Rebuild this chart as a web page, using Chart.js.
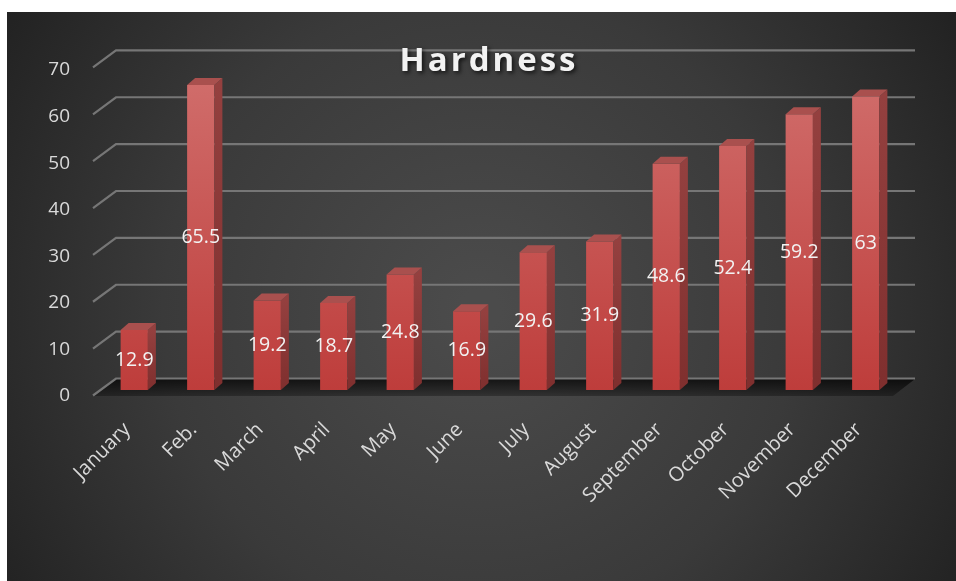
<!DOCTYPE html>
<html>
<head>
<meta charset="utf-8">
<script src="https://cdn.jsdelivr.net/npm/chart.js@4.4.1/dist/chart.umd.min.js"></script>
<style>
  html, body { margin: 0; padding: 0; background: #fff; }
  canvas { display: block; }
</style>
</head>
<body>
<canvas id="hardnessChart" width="956" height="581"></canvas>
<script>
const months = ['January', 'Feb.', 'March', 'April', 'May', 'June', 'July', 'August', 'September', 'October', 'November', 'December'];
const hardness = [12.9, 65.5, 19.2, 18.7, 24.8, 16.9, 29.6, 31.9, 48.6, 52.4, 59.2, 63];
const yMin = 0;
const yMax = 70;
const yStep = 10;

const DEPTH_X = 8;
const DEPTH_Y = 7;

// dark panel with soft radial light
const backdrop = {
    id: 'backdrop',
    beforeDraw(chart) {
        const ctx = chart.ctx;
        ctx.save();
        ctx.fillStyle = '#ffffff';
        ctx.fillRect(0, 0, chart.width, chart.height);
        const g = ctx.createRadialGradient(480, 310, 20, 480, 310, 560);
        g.addColorStop(0, '#4b4b4b');
        g.addColorStop(0.55, '#3a3a3a');
        g.addColorStop(1, '#222222');
        ctx.fillStyle = g;
        ctx.fillRect(7, 12, chart.width - 7, chart.height - 12);
        ctx.restore();
    }
};

// back wall grid lines with the little diagonal at the left, plus floor
const wallGrid = {
    id: 'wallGrid',
    beforeDatasetsDraw(chart) {
        const ctx = chart.ctx;
        const y = chart.scales.y;
        const right = 915;
        ctx.save();
        // floor
        const fy = y.getPixelForValue(0);
        const fg = ctx.createLinearGradient(0, fy - 12, 0, fy + 6);
        fg.addColorStop(0, 'rgba(0,0,0,0.75)');
        fg.addColorStop(1, 'rgba(0,0,0,0.3)');
        ctx.fillStyle = fg;
        ctx.beginPath();
        ctx.moveTo(93, fy + 6);
        ctx.lineTo(117, fy - 11);
        ctx.lineTo(right, fy - 11);
        ctx.lineTo(right - 22, fy + 6);
        ctx.closePath();
        ctx.fill();

        ctx.strokeStyle = '#767676';
        ctx.lineWidth = 2.2;
        for (let v = yMin; v <= yMax; v += yStep) {
            const back = y.getPixelForValue(v) - 11.5 - v * 0.03;
            ctx.beginPath();
            ctx.moveTo(93, back + 17);
            ctx.lineTo(116, back);
            ctx.lineTo(right, back);
            ctx.stroke();
        }
        ctx.restore();
    }
};

// side and top faces of the bars, then value labels
const bars3d = {
    id: 'bars3d',
    afterDatasetsDraw(chart) {
        const ctx = chart.ctx;
        const meta = chart.getDatasetMeta(0);
        ctx.save();
        meta.data.forEach((bar) => {
            const p = bar.getProps(['x', 'y', 'base', 'width'], true);
            const l = p.x - p.width / 2;
            const r = p.x + p.width / 2;
            // side
            const sg = ctx.createLinearGradient(0, p.y, 0, p.base);
            sg.addColorStop(0, '#94403f');
            sg.addColorStop(1, '#7f2f2e');
            ctx.fillStyle = sg;
            ctx.beginPath();
            ctx.moveTo(r, p.y);
            ctx.lineTo(r + DEPTH_X, p.y - DEPTH_Y);
            ctx.lineTo(r + DEPTH_X, p.base - DEPTH_Y);
            ctx.lineTo(r, p.base);
            ctx.closePath();
            ctx.fill();
            // top
            ctx.fillStyle = '#a9504e';
            ctx.beginPath();
            ctx.moveTo(l, p.y);
            ctx.lineTo(l + DEPTH_X, p.y - DEPTH_Y);
            ctx.lineTo(r + DEPTH_X, p.y - DEPTH_Y);
            ctx.lineTo(r, p.y);
            ctx.closePath();
            ctx.fill();
        });
        // value labels
        ctx.font = '19.5px "Open Sans"';
        ctx.fillStyle = '#f2f2f2';
        ctx.textAlign = 'center';
        ctx.textBaseline = 'middle';
        meta.data.forEach((bar, i) => {
            const p = bar.getProps(['x', 'y', 'base'], true);
            ctx.fillText(String(hardness[i]), p.x, (p.y + p.base) / 2);
        });
        ctx.restore();
    }
};

// title drawn over the plot, as in the original
const titleOverlay = {
    id: 'titleOverlay',
    afterDraw(chart) {
        const ctx = chart.ctx;
        ctx.save();
        ctx.font = 'bold 33px "Open Sans"';
        ctx.letterSpacing = '3px';
        ctx.textAlign = 'center';
        ctx.textBaseline = 'middle';
        ctx.shadowColor = 'rgba(0,0,0,0.7)';
        ctx.shadowBlur = 4;
        ctx.shadowOffsetX = 2;
        ctx.shadowOffsetY = 2;
        ctx.fillStyle = '#f2f2f2';
        ctx.fillText('Hardness', 489, 62);
        ctx.restore();
    }
};

new Chart(document.getElementById('hardnessChart'), {
    type: 'bar',
    data: {
        labels: months,
        datasets: [{
            label: 'Hardness',
            data: hardness,
            backgroundColor: (c) => {
                const area = c.chart.chartArea;
                if (!area) return '#c0504d';
                const g = c.chart.ctx.createLinearGradient(0, area.top, 0, area.bottom);
                g.addColorStop(0, '#d16f6d');
                g.addColorStop(1, '#be3d3b');
                return g;
            },
            borderWidth: 0,
            barPercentage: 0.41,
            categoryPercentage: 1
        }]
    },
    options: {
        responsive: false,
        animation: false,
        layout: { padding: { top: 64, right: 57, left: 0, bottom: 0 } },
        plugins: {
            legend: { display: false },
            title: { display: false },
            tooltip: { enabled: false }
        },
        scales: {
            x: {
                grid: { display: false },
                border: { display: false },
                ticks: {
                    color: '#d9d9d9',
                    font: { family: 'Open Sans', size: 20 },
                    minRotation: 45,
                    maxRotation: 45,
                    padding: 20,
                    labelOffset: -7
                },
                afterFit(scale) { scale.height = 191; }
            },
            y: {
                min: yMin,
                max: yMax,
                grid: { display: false, drawTicks: false },
                border: { display: false },
                ticks: {
                    stepSize: yStep,
                    color: '#d9d9d9',
                    font: { family: 'Open Sans', size: 19 },
                    padding: 31,
                    labelOffset: 6
                },
                afterFit(scale) { scale.width = 101; }
            }
        }
    },
    plugins: [backdrop, wallGrid, bars3d, titleOverlay]
});
</script>
</body>
</html>
